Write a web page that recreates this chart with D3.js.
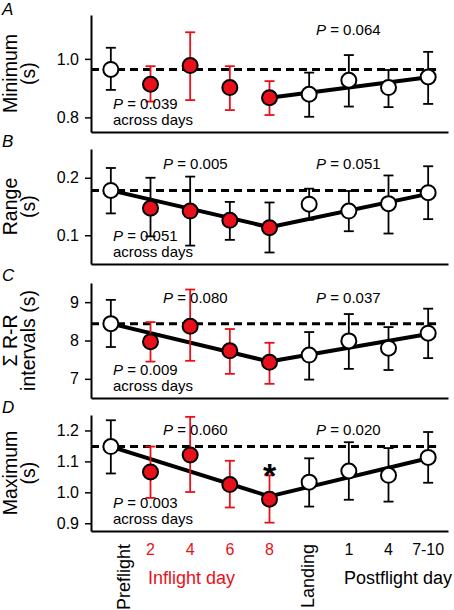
<!DOCTYPE html>
<html>
<head>
<meta charset="utf-8">
<script src="https://cdn.jsdelivr.net/npm/d3@7"></script>
<style>
  html, body { margin: 0; padding: 0; background: #fff; }
  text { font-family: "Liberation Sans", Arial, sans-serif; }
</style>
</head>
<body>
<script>
// ---------- DATA ----------
const categories = ["Preflight", "2", "4", "6", "8", "Landing", "1", "4", "7-10"];
const isInflight = [false, true, true, true, true, false, false, false, false];

// Panel A: Minimum (s)
const minimumMean  = [0.964, 0.913, 0.977, 0.902, 0.867, 0.879, 0.927, 0.902, 0.938];
const minimumUpper = [1.038, 0.975, 1.091, 0.975, 0.924, 0.953, 1.013, 0.962, 1.024];
const minimumLower = [0.894, 0.854, 0.859, 0.825, 0.808, 0.802, 0.837, 0.835, 0.846];
const minimumTrend = [null, null, null, null, 0.867, null, null, null, 0.937];
const minimumRef = 0.964;
const minimumTicks = [0.8, 1.0];

// Panel B: Range (s)
const rangeMean  = [0.178, 0.147, 0.142, 0.126, 0.113, 0.154, 0.142, 0.155, 0.174];
const rangeUpper = [0.217, 0.200, 0.202, 0.158, 0.157, 0.181, 0.177, 0.204, 0.220];
const rangeLower = [0.138, 0.098, 0.082, 0.092, 0.070, 0.127, 0.107, 0.103, 0.128];
const rangeTrend = [0.178, null, null, null, 0.114, null, null, null, 0.172];
const rangeRef = 0.178;
const rangeTicks = [0.1, 0.2];

// Panel C: Sum R-R intervals (s)
const sumRRMean  = [8.44, 7.97, 8.37, 7.73, 7.43, 7.62, 7.99, 7.80, 8.19];
const sumRRUpper = [9.06, 8.48, 9.33, 8.30, 7.94, 8.22, 8.69, 8.35, 8.83];
const sumRRLower = [7.83, 7.45, 7.47, 7.13, 6.87, 6.98, 7.26, 7.23, 7.54];
const sumRRTrend = [8.44, null, null, null, 7.45, null, null, null, 8.17];
const sumRRRef = 8.44;
const sumRRTicks = [7, 8, 9];

// Panel D: Maximum (s)
const maximumMean  = [1.148, 1.066, 1.121, 1.025, 0.978, 1.033, 1.069, 1.055, 1.113];
const maximumUpper = [1.233, 1.148, 1.244, 1.102, 1.055, 1.110, 1.162, 1.143, 1.195];
const maximumLower = [1.061, 0.982, 1.001, 0.951, 0.902, 0.954, 0.976, 0.970, 1.031];
const maximumTrend = [1.148, null, null, null, 0.987, null, null, null, 1.110];
const maximumRef = 1.148;
const maximumTicks = [0.9, 1.0, 1.1, 1.2];

// P-value labels
const pInflight   = [null, "0.005", "0.080", "0.060"];
const pPostflight = ["0.064", "0.051", "0.037", "0.020"];
const pAcross     = ["0.039", "0.051", "0.009", "0.003"];
const panelLetters = ["A", "B", "C", "D"];
const panelTitles = [["Minimum", "(s)"], ["Range", "(s)"], ["\u03A3 R-R", "intervals (s)"], ["Maximum", "(s)"]];
const groupLabels = ["Inflight day", "Postflight day"];

// ---------- LAYOUT ----------
const W = 454, H = 610;
const RED = "#e8101a";
const svg = d3.select("body").append("svg").attr("width", W).attr("height", H);
const x = d3.scaleLinear().domain([-0.5, 8.5]).range([91, 448]);

const panels = [
  { top: 15,  bottom: 132, domain: [0.75, 1.15], ticks: minimumTicks, fmt: d3.format(".1f"),
    mean: minimumMean, upper: minimumUpper, lower: minimumLower, trend: minimumTrend, ref: minimumRef, redBars: true },
  { top: 149, bottom: 264, domain: [0.05, 0.25], ticks: rangeTicks, fmt: d3.format(".1f"),
    mean: rangeMean, upper: rangeUpper, lower: rangeLower, trend: rangeTrend, ref: rangeRef, redBars: false },
  { top: 283, bottom: 398, domain: [6.5, 9.5], ticks: sumRRTicks, fmt: d3.format("d"),
    mean: sumRRMean, upper: sumRRUpper, lower: sumRRLower, trend: sumRRTrend, ref: sumRRRef, redBars: true },
  { top: 415, bottom: 531, domain: [0.875, 1.25], ticks: maximumTicks, fmt: d3.format(".1f"),
    mean: maximumMean, upper: maximumUpper, lower: maximumLower, trend: maximumTrend, ref: maximumRef, redBars: true }
];

function pText(sel, val) {
  sel.append("tspan").attr("font-style", "italic").text("P");
  sel.append("tspan").text(" = " + val);
}

panels.forEach((p, k) => {
  const y = d3.scaleLinear().domain(p.domain).range([p.bottom, p.top]);
  const g = svg.append("g");

  // y axis
  const ya = g.append("g").attr("transform", "translate(91,0)")
    .call(d3.axisLeft(y).tickValues(p.ticks).tickFormat(p.fmt).tickSize(6).tickSizeOuter(0).tickPadding(6));
  ya.select(".domain").attr("stroke", "#000").attr("stroke-width", 2);
  ya.selectAll(".tick line").attr("stroke", "#000").attr("stroke-width", 1.5);
  ya.selectAll(".tick text").attr("font-size", 16).attr("fill", "#000")
    .attr("font-family", "Liberation Sans, Arial, sans-serif");

  // x axis line
  const xa = g.append("g").attr("transform", `translate(0,${p.bottom})`)
    .call(d3.axisBottom(x).tickValues([]).tickSizeOuter(0));
  xa.select(".domain").attr("stroke", "#000").attr("stroke-width", 2);

  // dashed reference line
  g.append("line")
    .attr("x1", x(-0.5)).attr("x2", x(8.2))
    .attr("y1", y(p.ref)).attr("y2", y(p.ref))
    .attr("stroke", "#000").attr("stroke-width", 3).attr("stroke-dasharray", "8,5");

  // trend line
  const trendPts = p.trend.map((v, i) => ({ i, v })).filter(d => d.v !== null);
  g.append("path").datum(trendPts)
    .attr("d", d3.line().x(d => x(d.i)).y(d => y(d.v)))
    .attr("fill", "none").attr("stroke", "#000").attr("stroke-width", 4).attr("stroke-linejoin", "round");

  // error bars
  const data = categories.map((c, i) => ({ i, m: p.mean[i], hi: p.upper[i], lo: p.lower[i], red: isInflight[i] }));
  const eb = g.append("g").selectAll("g").data(data).join("g")
    .attr("stroke", d => (d.red && p.redBars) ? RED : "#000").attr("stroke-width", 1.8);
  eb.append("line").attr("x1", d => x(d.i)).attr("x2", d => x(d.i)).attr("y1", d => y(d.lo)).attr("y2", d => y(d.hi));
  eb.append("line").attr("x1", d => x(d.i) - 5).attr("x2", d => x(d.i) + 5).attr("y1", d => y(d.lo)).attr("y2", d => y(d.lo));
  eb.append("line").attr("x1", d => x(d.i) - 5).attr("x2", d => x(d.i) + 5).attr("y1", d => y(d.hi)).attr("y2", d => y(d.hi));

  // markers
  g.append("g").selectAll("circle").data(data).join("circle")
    .attr("cx", d => x(d.i)).attr("cy", d => y(d.m)).attr("r", 7.5)
    .attr("fill", d => d.red ? RED : "#fff").attr("stroke", "#000").attr("stroke-width", 2);

  // panel letter
  svg.append("text").attr("x", 2).attr("y", p.top - (k === 0 ? 0 : 2))
    .attr("font-size", 17).attr("font-style", "italic").text(panelLetters[k]);

  // y title (two rotated lines)
  const cy = (p.top + p.bottom) / 2;
  svg.append("text").attr("transform", `translate(17,${cy}) rotate(-90)`)
    .attr("text-anchor", "middle").attr("font-size", 19.5).text(panelTitles[k][0]);
  svg.append("text").attr("transform", `translate(35,${cy}) rotate(-90)`)
    .attr("text-anchor", "middle").attr("font-size", 19.5).text(panelTitles[k][1]);

  // P values
  if (pInflight[k]) {
    svg.append("text").attr("x", 163).attr("y", p.top + 20).attr("font-size", 15).call(pText, pInflight[k]);
  }
  svg.append("text").attr("x", 316).attr("y", p.top + 20).attr("font-size", 15).call(pText, pPostflight[k]);
  svg.append("text").attr("x", 113).attr("y", p.bottom - 23).attr("font-size", 15).call(pText, pAcross[k]);
  svg.append("text").attr("x", 113).attr("y", p.bottom - 7).attr("font-size", 15).text("across days");

  if (k === 3) {
    // significance asterisk above day 8
    svg.append("text").attr("x", x(4)).attr("y", y(p.upper[4]) + 12)
      .attr("text-anchor", "middle").attr("font-size", 34).attr("font-weight", "bold").text("*");
  }
});

// x category labels
categories.forEach((c, i) => {
  if (c === "Preflight" || c === "Landing") {
    const off = c === "Preflight" ? 19 : 5;
    svg.append("text").attr("transform", `translate(${x(i) + off},544) rotate(-90)`)
      .attr("text-anchor", "end").attr("font-size", 18).text(c);
  } else {
    svg.append("text").attr("x", x(i)).attr("y", 555).attr("text-anchor", "middle")
      .attr("font-size", 16).attr("fill", isInflight[i] ? RED : "#000").text(c);
  }
});
svg.append("text").attr("x", 148).attr("y", 584).attr("font-size", 18).attr("fill", RED).text(groupLabels[0]);
svg.append("text").attr("x", 344).attr("y", 584).attr("font-size", 18).attr("fill", "#000").text(groupLabels[1]);
</script>
</body>
</html>
